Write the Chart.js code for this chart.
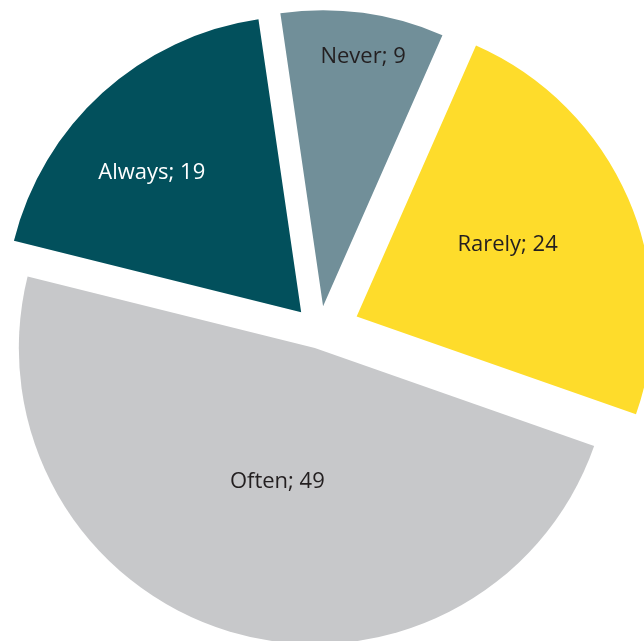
<!DOCTYPE html>
<html>
<head>
<meta charset="utf-8">
<style>
  html, body { margin: 0; padding: 0; background: #ffffff; overflow: hidden; }
  #wrap { width: 644px; height: 641px; position: relative; }
  canvas { display: block; }
</style>
<script src="https://cdn.jsdelivr.net/npm/chart.js@4/dist/chart.umd.min.js"></script>
</head>
<body>
<div id="wrap"><canvas id="c" width="644" height="641"></canvas></div>
<script>
// ---- data ----
const categories = ['Never', 'Rarely', 'Often', 'Always'];
const values = [9, 24, 49, 19];

// ---- styling ----
const sliceColors = ['#718F99', '#FEDC2B', '#C7C8CA', '#02505C'];
const labelColors = ['#231F20', '#231F20', '#231F20', '#FFFFFF'];
const explodeDistance = [26.6, 40.5, 16.3, 27.3];      // px, along each slice bisector
const labelRadiusFraction = [0.86, 0.567, 0.464, 0.695]; // of outer radius
const labelTurnDeg = [1.3, -2.5, -0.8, -4.4];
const labelFont = '22px "Open Sans", "Noto Sans", sans-serif';

const explodePlugin = {
  id: 'explodeSlices',
  afterDatasetUpdate(chart, args) {
    const meta = args.meta;
    meta.data.forEach((arc, i) => {
      const mid = (arc.startAngle + arc.endAngle) / 2;
      const d = explodeDistance[i] || 0;
      arc.x = arc.x + Math.cos(mid) * d;
      arc.y = arc.y + Math.sin(mid) * d;
    });
  }
};

const labelPlugin = {
  id: 'sliceLabels',
  afterDatasetsDraw(chart) {
    const ctx = chart.ctx;
    const meta = chart.getDatasetMeta(0);
    ctx.save();
    ctx.font = labelFont;
    ctx.textAlign = 'center';
    ctx.textBaseline = 'alphabetic';
    meta.data.forEach((arc, i) => {
      const mid = (arc.startAngle + arc.endAngle) / 2 + labelTurnDeg[i] * Math.PI / 180;
      const r = arc.outerRadius * labelRadiusFraction[i];
      const x = arc.x + Math.cos(mid) * r;
      const y = arc.y + Math.sin(mid) * r;
      ctx.fillStyle = labelColors[i];
      ctx.fillText(categories[i] + '; ' + values[i], x, y + 8);
    });
    ctx.restore();
  }
};

new Chart(document.getElementById('c'), {
  type: 'pie',
  data: {
    labels: categories,
    datasets: [{
      data: values,
      backgroundColor: sliceColors,
      borderWidth: 0,
      hoverOffset: 0,
      clip: false
    }]
  },
  options: {
    responsive: false,
    animation: false,
    events: [],
    rotation: -8.3,
    radius: 296,
    layout: { padding: { top: 24, right: 5, bottom: 0, left: 0 } },
    plugins: {
      legend: { display: false },
      tooltip: { enabled: false }
    }
  },
  plugins: [explodePlugin, labelPlugin]
});
</script>
</body>
</html>
